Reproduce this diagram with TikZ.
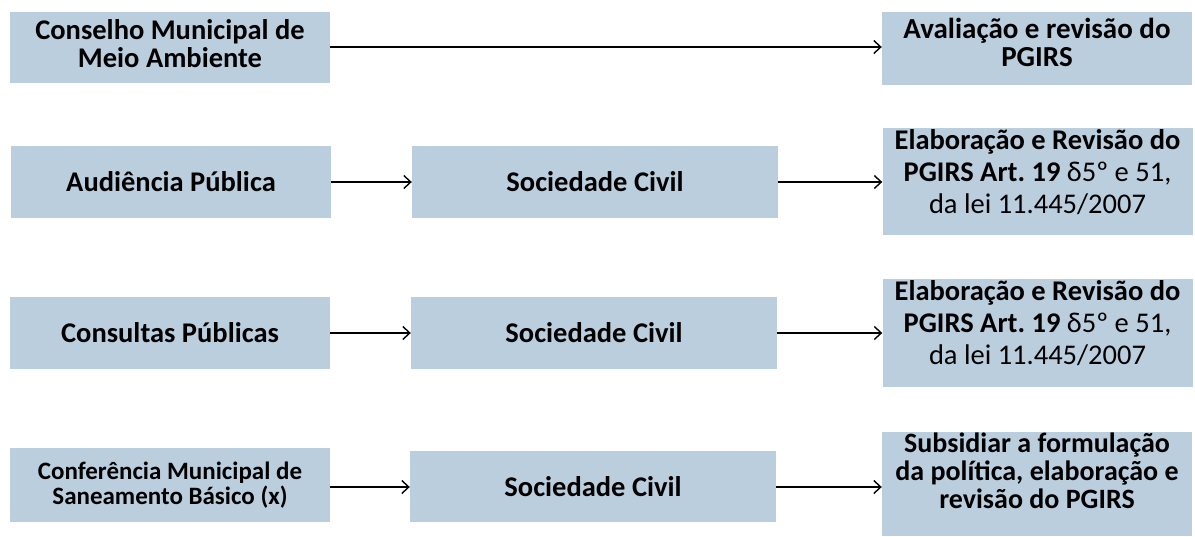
\documentclass[tikz,border=0pt]{standalone}
\usepackage{fontspec}
\setmainfont{Carlito}
\usetikzlibrary{arrows.meta}
\definecolor{boxfill}{RGB}{187,206,222}
\frenchspacing
\tikzset{
  box/.style={fill=boxfill, draw=none, inner sep=0pt, align=center,
    font=\fontsize{28.5}{28}\selectfont\bfseries},
  lbox/.style={box, minimum width=320pt},
  mbox/.style={box, minimum width=366pt},
  rbox/.style={box, minimum width=310pt},
  rtext/.style={inner sep=0pt, align=center,
    font=\fontsize{28.5}{28}\selectfont\bfseries},
  conn/.style={draw=black, line width=1.4pt, -{Straight Barb[length=7pt,width=13pt,line width=1.4pt]}}
}
\begin{document}
\begin{tikzpicture}[x=1pt,y=-1pt]
\useasboundingbox (0,0) rectangle (1195,536);
% row 1
\node[lbox, minimum height=71pt] (l1) at (170,47.5) {};
\node[rtext] (l1t) at (170,44) {Conselho Municipal de\\Meio Ambiente};
\node[rbox, minimum height=73pt] (r1) at (1037,48.5) {};
\node[rtext, font=\fontsize{29}{28}\selectfont\bfseries] (r1t) at (1037,42) {Avaliação e revisão do\\PGIRS};
% row 2
\node[lbox, minimum height=72pt] (l2) at (171,182) {Audiência Pública};
\node[mbox, minimum height=72pt] (m2) at (595,182) {Sociedade Civil};
\node[rbox, minimum height=107pt] (r2) at (1037.5,181.5) {};
\node[rtext, font=\fontsize{28.5}{32}\selectfont\bfseries] (r2t) at (1037.5,172) {Elaboração e Revisão do\\PGIRS Art. 19 {\mdseries δ5º e 51,}\\{\mdseries da lei 11.445/2007}};
% row 3
\node[lbox, minimum height=72pt] (l3) at (170,333) {Consultas Públicas};
\node[mbox, minimum height=72pt] (m3) at (594,333) {Sociedade Civil};
\node[rbox, minimum height=108pt] (r3) at (1037.5,333) {};
\node[rtext, font=\fontsize{28.5}{32}\selectfont\bfseries] (r3t) at (1037.5,323) {Elaboração e Revisão do\\PGIRS Art. 19 {\mdseries δ5º e 51,}\\{\mdseries da lei 11.445/2007}};
% row 4
\node[lbox, minimum height=74pt, font=\fontsize{25}{25}\selectfont\bfseries] (l4) at (170,485) {Conferência Municipal de\\Saneamento Básico (x)};
\node[mbox, minimum height=71pt] (m4) at (593,486.5) {Sociedade Civil};
\node[rbox, minimum height=104pt] (r4) at (1037,484) {};
\node[rtext, font=\fontsize{28}{28}\selectfont\bfseries] (r4t) at (1037,471) {Subsidiar a formulação\\da política, elaboração e\\revisão do PGIRS};
% connectors
\draw[conn] (l1.east |- 0,47) -- (r1.west |- 0,47);
\draw[conn] (l2) -- (m2);
\draw[conn] (m2) -- (m2 -| r2.west);
\draw[conn] (l3) -- (m3);
\draw[conn] (m3) -- (m3 -| r3.west);
\draw[conn] (l4.east |- 0,487) -- (m4.west |- 0,487);
\draw[conn] (m4.east |- 0,487) -- (r4.west |- 0,487);
\end{tikzpicture}
\end{document}
